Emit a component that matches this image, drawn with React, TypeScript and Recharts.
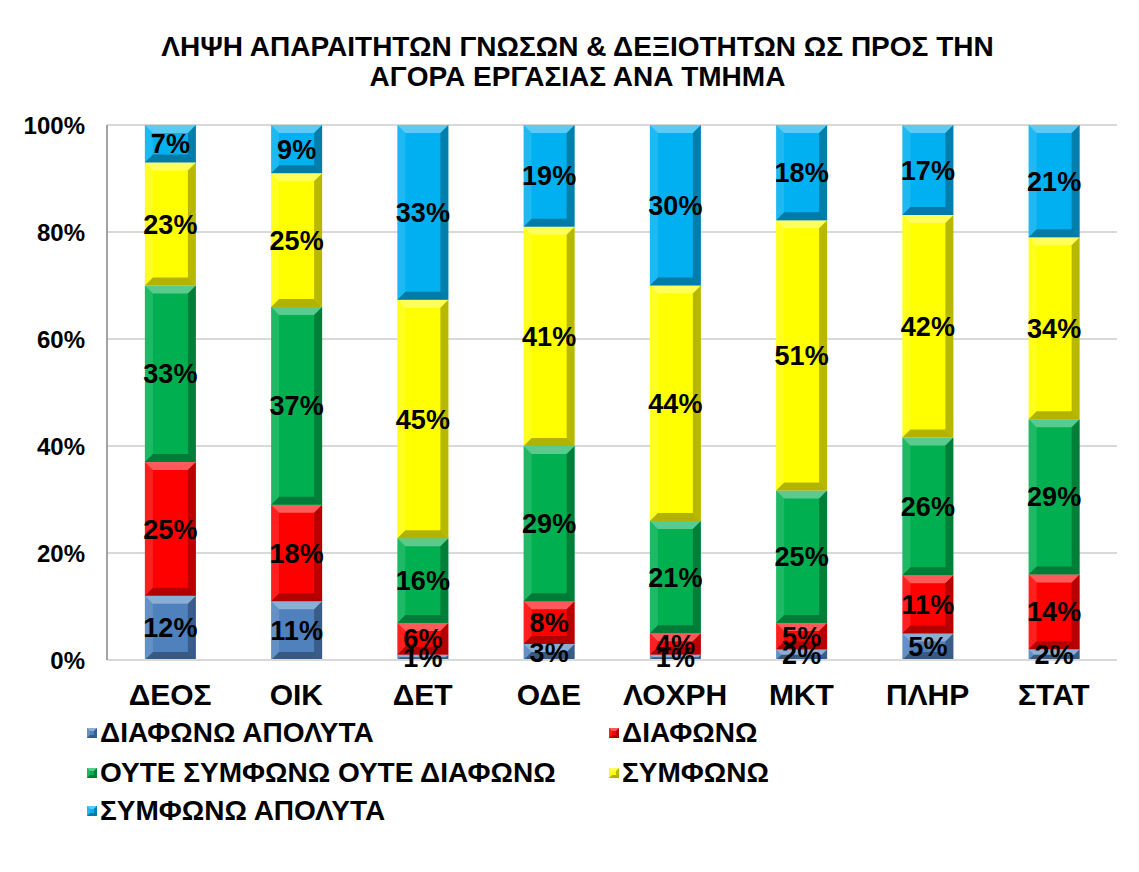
import { BarChart, Bar, XAxis, YAxis, CartesianGrid, LabelList } from "recharts";

const categories = ["ΔΕΟΣ", "ΟΙΚ", "ΔΕΤ", "ΟΔΕ", "ΛΟΧΡΗ", "ΜΚΤ", "ΠΛΗΡ", "ΣΤΑΤ"];

const seriesNames = [
  "ΔΙΑΦΩΝΩ ΑΠΟΛΥΤΑ",
  "ΔΙΑΦΩΝΩ",
  "ΟΥΤΕ ΣΥΜΦΩΝΩ ΟΥΤΕ ΔΙΑΦΩΝΩ",
  "ΣΥΜΦΩΝΩ",
  "ΣΥΜΦΩΝΩ ΑΠΟΛΥΤΑ",
];

const disagreeFully = [12, 11, 1, 3, 1, 2, 5, 2];
const disagree = [25, 18, 6, 8, 4, 5, 11, 14];
const neutral = [33, 37, 16, 29, 21, 25, 26, 29];
const agree = [23, 25, 45, 41, 44, 51, 42, 34];
const agreeFully = [7, 9, 33, 19, 30, 18, 17, 21];

const yTicks = [0, 0.2, 0.4, 0.6, 0.8, 1];

const seriesValues = [disagreeFully, disagree, neutral, agree, agreeFully];
const colors = ["#4F81BD", "#FF0000", "#00B050", "#FFFF00", "#00B0F0"];
const keys = ["s0", "s1", "s2", "s3", "s4"];

const data = categories.map((name, i) => {
  const row: Record<string, string | number> = { name };
  keys.forEach((k, s) => {
    row[k] = seriesValues[s][i];
  });
  return row;
});

const FONT = "'Liberation Sans', Arial, sans-serif";

// rectangle with a bevelled edge, like the office "bevel" bar effect
function bevel(x: number, y: number, w: number, h: number, fill: string, size: number) {
  const b = Math.max(0, Math.min(size, h / 2, w / 2));
  return (
    <g>
      <rect x={x} y={y} width={w} height={h} fill={fill} />
      <polygon
        points={`${x},${y} ${x + w},${y} ${x + w - b},${y + b} ${x + b},${y + b}`}
        fill="#fff"
        fillOpacity={0.35}
      />
      <polygon
        points={`${x},${y} ${x + b},${y + b} ${x + b},${y + h - b} ${x},${y + h}`}
        fill="#fff"
        fillOpacity={0.12}
      />
      <polygon
        points={`${x + w},${y} ${x + w},${y + h} ${x + w - b},${y + h - b} ${x + w - b},${y + b}`}
        fill="#000"
        fillOpacity={0.28}
      />
      <polygon
        points={`${x},${y + h} ${x + w},${y + h} ${x + w - b},${y + h - b} ${x + b},${y + h - b}`}
        fill="#000"
        fillOpacity={0.3}
      />
    </g>
  );
}

const BevelBar = (props: any) => {
  const { x, y, width, height, fill } = props;
  if (!height || height <= 0) return null;
  return bevel(x, y, width, height, fill, 8);
};

const legendPos = [
  { left: 79, top: 725 },
  { left: 601, top: 725 },
  { left: 79, top: 765 },
  { left: 601, top: 765 },
  { left: 79, top: 803 },
];

export default function App() {
  return (
    <div style={{ position: "relative", width: 1131, height: 864, fontFamily: FONT }}>
      <style>{`body{overflow:hidden}`}</style>
      <div
        style={{
          position: "absolute",
          left: -2,
          top: -2,
          width: 1140,
          height: 870,
          border: "2px solid #d9d9d9",
          boxSizing: "border-box",
          pointerEvents: "none",
        }}
      />
      <div
        style={{
          position: "absolute",
          left: 4,
          top: 24,
          width: 1131,
          textAlign: "center",
          fontSize: 28,
          fontWeight: "bold",
          lineHeight: "30px",
          color: "#000",
        }}
      >
        ΛΗΨΗ ΑΠΑΡΑΙΤΗΤΩΝ ΓΝΩΣΩΝ &amp; ΔΕΞΙΟΤΗΤΩΝ ΩΣ ΠΡΟΣ ΤΗΝ
        <br />
        ΑΓΟΡΑ ΕΡΓΑΣΙΑΣ ΑΝΑ ΤΜΗΜΑ
      </div>
      <BarChart
        width={1131}
        height={864}
        data={data}
        stackOffset="expand"
        barCategoryGap="30%"
        margin={{ top: 117, right: 22, left: 0, bottom: 182 }}
        style={{ position: "absolute", left: 0, top: 0 }}
      >
        <CartesianGrid vertical={false} stroke="#d9d9d9" strokeWidth={2} />
        <XAxis
          dataKey="name"
          height={30}
          tickLine={false}
          tickSize={0}
          tickMargin={24}
          axisLine={{ stroke: "#d9d9d9", strokeWidth: 2 }}
          tick={{ fill: "#000", fontSize: 30, fontWeight: "bold", fontFamily: FONT }}
        />
        <YAxis
          width={99}
          domain={[0, 1]}
          ticks={yTicks}
          tickFormatter={(v: number) => `${Math.round(v * 100)}%`}
          tickLine={false}
          tickSize={0}
          tickMargin={22}
          axisLine={{ stroke: "#868686", strokeWidth: 1.5 }}
          tick={{ fill: "#000", fontSize: 24, fontWeight: "bold", fontFamily: FONT }}
        />
        {keys.map((k, s) => (
          <Bar
            key={k}
            dataKey={k}
            name={seriesNames[s]}
            stackId="a"
            fill={colors[s]}
            shape={BevelBar}
            isAnimationActive={false}
          >
            <LabelList
              dataKey={k}
              position="center"
              formatter={(v: any) => `${v}%`}
              fill="#000"
              fontSize={27}
              fontWeight="bold"
              fontFamily={FONT}
            />
          </Bar>
        ))}
      </BarChart>
      {seriesNames.map((n, s) => (
        <div
          key={n}
          style={{
            position: "absolute",
            left: legendPos[s].left,
            top: legendPos[s].top - 16,
            height: 32,
            display: "flex",
            alignItems: "center",
            fontSize: 28,
            fontWeight: "bold",
            color: "#000",
            whiteSpace: "nowrap",
          }}
        >
          <svg width={10} height={10} style={{ marginRight: 3 }}>
            {bevel(0, 0, 10, 10, colors[s], 3)}
          </svg>
          {n}
        </div>
      ))}
    </div>
  );
}
